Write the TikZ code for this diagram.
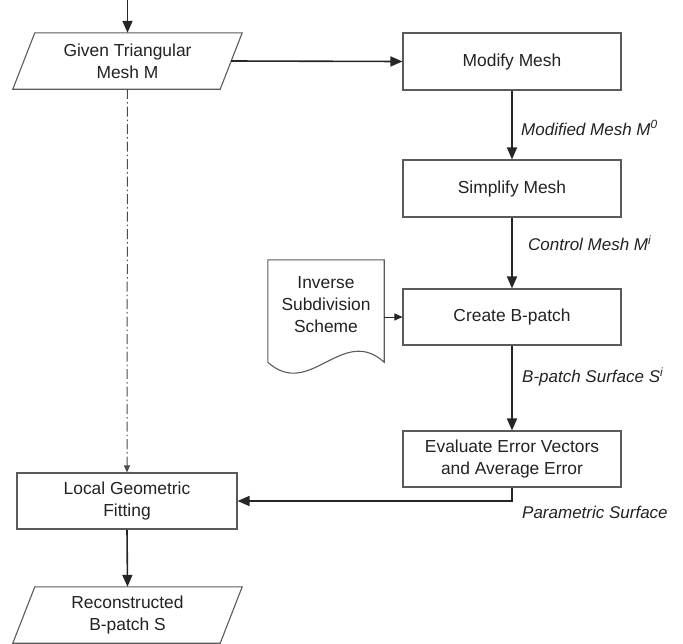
\documentclass[tikz,border=0pt]{standalone}
\usepackage{fontspec}
\setmainfont{Liberation Sans}
\usetikzlibrary{arrows.meta,calc}
\definecolor{boxline}{HTML}{5A5A5A}
\definecolor{txt}{HTML}{222222}
\begin{document}
\begin{tikzpicture}[x=1pt,y=-1pt,
  every node/.style={font=\fontsize{17.4}{22}\selectfont, text=txt},
  procbox/.style={draw=boxline, line width=1.1pt, minimum width=218pt, minimum height=57pt, align=center, inner sep=0pt},
  iobox/.style={minimum width=207pt, minimum height=56pt, align=center, inner sep=0pt},
  ioshape/.style={draw=boxline, line width=1.1pt},
  flow/.style={line width=1.6pt, draw=black!85, -{Triangle[length=12pt,width=10pt]}},
  thinflow/.style={line width=0.9pt, draw=black!85, -{Triangle[length=8pt,width=7pt]}},
  dashflow/.style={draw=black!70, line width=1pt, dash pattern=on 10pt off 3pt on 1.5pt off 3pt, -{Triangle[length=7pt,width=6pt]}},
  lbl/.style={font=\fontsize{17}{22}\selectfont\itshape, anchor=west, inner sep=0pt},
  ]
\useasboundingbox (0,0) rectangle (683,643);

% nodes
\node[iobox] (given) at (127.5,61) {Given Triangular\\Mesh M};
\node[procbox] (modify) at (512,61.5) {Modify Mesh};
\node[procbox] (simplify) at (512,188.5) {Simplify Mesh};
\node[procbox, minimum height=56pt] (create) at (512,317) {Create B-patch};
\node[procbox, minimum height=56pt] (eval) at (512,459) {Evaluate Error Vectors\\and Average Error};
\node[procbox, minimum width=220pt, minimum height=56pt] (local) at (127,501) {Local Geometric\\Fitting};
\node[iobox] (recon) at (127.5,615) {Reconstructed\\B-patch S};
\node[minimum width=116pt, minimum height=102pt, inner sep=0pt] (docshape) at (326,311) {};
\node[align=center, inner sep=0pt] (doctext) at (326,305) {Inverse\\Subdivision\\Scheme};
\coordinate (start) at (127.5,0);

% parallelograms
\draw[ioshape] ($(given.north west)+(11,0)$) -- ($(given.north east)+(11,0)$) -- ($(given.south east)+(-11,0)$) -- ($(given.south west)+(-11,0)$) -- cycle;
\draw[ioshape] ($(recon.north west)+(11,0)$) -- ($(recon.north east)+(11,0)$) -- ($(recon.south east)+(-11,0)$) -- ($(recon.south west)+(-11,0)$) -- cycle;

% document shape
\draw[ioshape] (docshape.south west) -- (docshape.north west) -- (docshape.north east) -- (docshape.south east)
  .. controls ($(docshape.south east)+(-42,-38)$) and ($(docshape.south west)+(42,38)$) .. (docshape.south west);

% connectors
\draw[flow] (start) -- (given.north);
\draw[flow] (given.east) -- (modify.west);
\draw[flow] (modify.south) -- (simplify.north);
\draw[flow] (simplify.south) -- (create.north);
\draw[flow] (create.south) -- (eval.north);
\draw[flow] (eval.south) |- (local.east);
\draw[flow] (local.south) -- (recon.north);
\draw[thinflow] (docshape.east |- create.west) -- (create.west);
\draw[dashflow] (given.south) -- (local.north);

% labels
\node[lbl] (l1) at (521,128) {Modified Mesh M\textsuperscript{0}};
\node[lbl] (l2) at (528,243) {Control Mesh M\textsuperscript{i}};
\node[lbl] (l3) at (522,377) {B-patch Surface S\textsuperscript{i}};
\node[lbl] (l4) at (522,512) {Parametric Surface};
\end{tikzpicture}
\end{document}
